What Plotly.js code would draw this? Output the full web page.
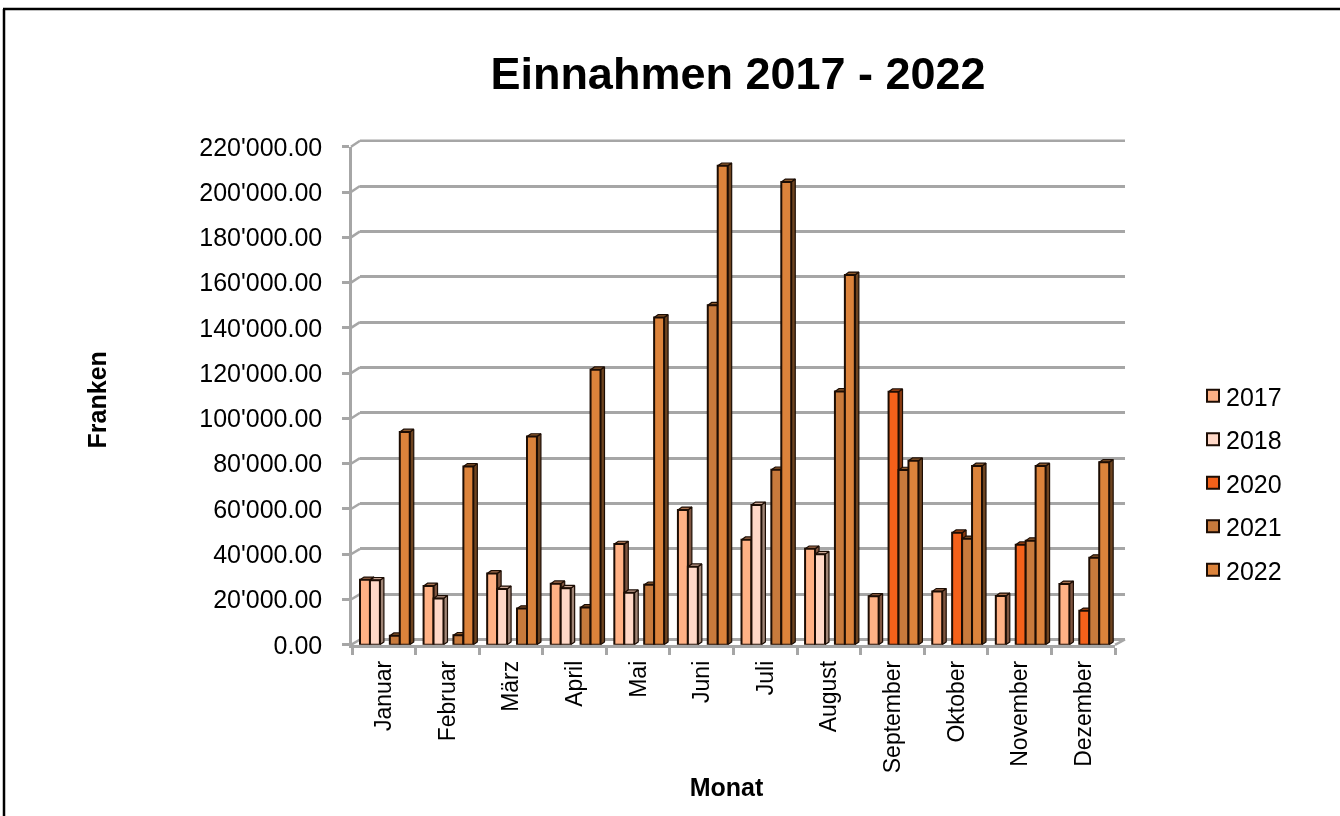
<!DOCTYPE html>
<html><head><meta charset="utf-8">
<script src="https://cdn.plot.ly/plotly-3.0.1.min.js"></script>
<style>html,body{margin:0;padding:0;background:#fff;overflow:hidden}#c{width:1340px;height:816px;filter:blur(0.5px)}</style>
</head><body><div id="c"></div>
<script>
const months = ["Januar","Februar","März","April","Mai","Juni","Juli","August","September","Oktober","November","Dezember"];
const years = ["2017","2018","2020","2021","2022"];
const v2017 = [28700,26000,31500,27000,44500,59600,46400,42400,21400,23600,21600,26900];
const v2018 = [28500,20500,24700,25000,23000,34500,61800,40000,null,null,null,null];
const v2020 = [null,null,null,null,null,null,null,null,111800,49500,44200,15000];
const v2021 = [4000,4200,16000,16500,26500,150000,77300,111900,77200,46800,46000,38500];
const v2022 = [94000,78800,92000,121500,144600,211600,204500,163400,81300,79000,79000,80600];
const seriesValues = [v2017,v2018,v2020,v2021,v2022];
const frontColors = ["#FFB185","#FFD8C7","#F4611A","#C87A3C","#DC833B"];
const sideColors  = ["#7E5540","#A08576","#8A3A10","#6E4522","#6E4420"];
const topColors   = ["#A8714F","#C9A593","#B04A15","#8E5A2C","#8E5A2C"];

const W=1340,H=816;
const fx0=352, fx1=1115, fy0=644.8, fy1=146.8;   // front plane
const bx0=360, bx1=1125, by0=639.5, by1=140.7;   // back wall
const yMax=220000;
const catPx=(fx1-fx0)/12, unitPx=(fy0-fy1)/yMax;
const barW=9.95/catPx, start=8/catPx, dx=4/catPx, dy=2.8/unitPx;
const ink="#1c0d04", gray="#A6A6A6";

const px=x=>x/W, py=y=>1-y/H;
const traces=[];
traces.push({type:"scatter",mode:"lines",x:[0],y:[0],xaxis:"x",yaxis:"y",showlegend:false,hoverinfo:"skip",line:{width:0}});
seriesValues.forEach((vals,s)=>{
  const sx=[],sy=[],tx=[],ty=[];
  vals.forEach((v,i)=>{
    if(v===null) return;
    const l=i-0.5+start+s*barW, r=l+barW;
    sx.push(r,r+dx,r+dx,r,r,null); sy.push(0,dy,v+dy,v,0,null);
    tx.push(l,l+dx,r+dx,r,l,null); ty.push(v,v+dy,v+dy,v,v,null);
  });
  [[sx,sy,sideColors[s]],[tx,ty,topColors[s]]].forEach(([a,b,c])=>{
    traces.push({type:"scatter",mode:"lines",x:a,y:b,xaxis:"x2",yaxis:"y2",fill:"toself",fillcolor:c,
      line:{color:ink,width:1.2},showlegend:false,hoverinfo:"skip"});
  });
});
seriesValues.forEach((vals,s)=>{
  traces.push({type:"bar",name:years[s],x:months,y:vals,xaxis:"x3",yaxis:"y3",
    width:barW,offset:-0.5+start+s*barW,legendgroup:years[s],
    marker:{color:frontColors[s],line:{color:ink,width:2}}});
});

const shapes=[];
function seg(x0,y0,x1,y1){shapes.push({type:"line",xref:"paper",yref:"paper",layer:"below",x0:px(x0),y0:py(y0),x1:px(x1),y1:py(y1),line:{color:gray,width:2.5}});}
for(let k=0;k<=11;k++){
  const t=k/11;
  seg(fx0-1,fy0+(fy1-fy0)*t,bx0,by0+(by1-by0)*t);
}
seg(fx1,fy0,bx1,by0);
seg(bx0,by1,bx1,by1);
function border(x0,y0,x1,y1){shapes.push({type:"line",xref:"paper",yref:"paper",x0:px(x0),y0:py(y0),x1:px(x1),y1:py(y1),line:{color:"#000",width:2.5}});}
border(3,9,1340,9);
border(4,9,4,816);

const font={family:"Liberation Sans, Arial, sans-serif",color:"#000"};
const layout={
  width:W,height:H,margin:{l:0,r:0,t:0,b:0},paper_bgcolor:"#fff",plot_bgcolor:"rgba(0,0,0,0)",
  separators:".'",barmode:"overlay",font:{...font,size:20},
  title:{text:"Einnahmen 2017 - 2022",font:{...font,size:45,weight:700},x:738/W,xanchor:"center",xref:"paper",y:1-73/H,yanchor:"middle",yref:"paper"},
  xaxis:{domain:[px(bx0),px(bx1)],range:[0,1],visible:false,showgrid:false},
  yaxis:{domain:[py(by0),py(by1)],range:[0,yMax],dtick:20000,showgrid:true,gridcolor:gray,gridwidth:2.5,zeroline:true,zerolinecolor:gray,zerolinewidth:2.5,showticklabels:false,ticks:"",showline:false},
  xaxis2:{domain:[px(fx0),px(fx1)],range:[-0.5,11.5],visible:false,showgrid:false,zeroline:false,anchor:"y2"},
  yaxis2:{domain:[py(fy0),py(fy1)],range:[0,yMax],visible:false,showgrid:false,zeroline:false,anchor:"x2"},
  xaxis3:{domain:[px(fx0),px(fx1)],anchor:"y3",type:"category",categoryorder:"array",categoryarray:months,range:[-0.5,11.5],tickson:"boundaries",
    ticks:"outside",ticklen:7,tickcolor:gray,tickwidth:2.5,showline:true,linecolor:gray,linewidth:2.5,showgrid:false,tickangle:-90,
    tickfont:{...font,size:23},ticklabelstandoff:4,automargin:false,
    title:{text:"Monat",font:{...font,size:25,weight:700},standoff:10}},
  yaxis3:{domain:[py(fy0),py(fy1)],range:[0,yMax],dtick:20000,tickformat:",.2f",anchor:"x3",
    ticks:"outside",ticklen:7,tickcolor:gray,tickwidth:2.5,showline:true,linecolor:gray,linewidth:2.5,showgrid:false,zeroline:false,
    tickfont:{...font,size:25},ticklabelstandoff:15,automargin:false,
    title:{text:"Franken",font:{...font,size:25,weight:700},standoff:86}},
  legend:{x:1186/W,y:1-373/H,xanchor:"left",yanchor:"top",font:{...font,size:25},tracegroupgap:8,itemclick:false,itemdoubleclick:false,bgcolor:"rgba(0,0,0,0)",traceorder:"grouped"},
  shapes:shapes,
  showlegend:true
};
Plotly.newPlot("c",traces,layout,{displayModeBar:false,responsive:false}).then(gd=>{
  gd.querySelectorAll(".legend .legendsymbols").forEach(n=>n.setAttribute("transform","translate(7,0)"));
  const xt=gd.querySelector(".xtitle, .x3title");
  if(xt) xt.setAttribute("transform","translate(-7,-3)");
  const yt=gd.querySelector(".y3title");
  if(yt) yt.setAttribute("transform","translate(0,4) "+(yt.getAttribute("transform")||""));
});
</script></body></html>
